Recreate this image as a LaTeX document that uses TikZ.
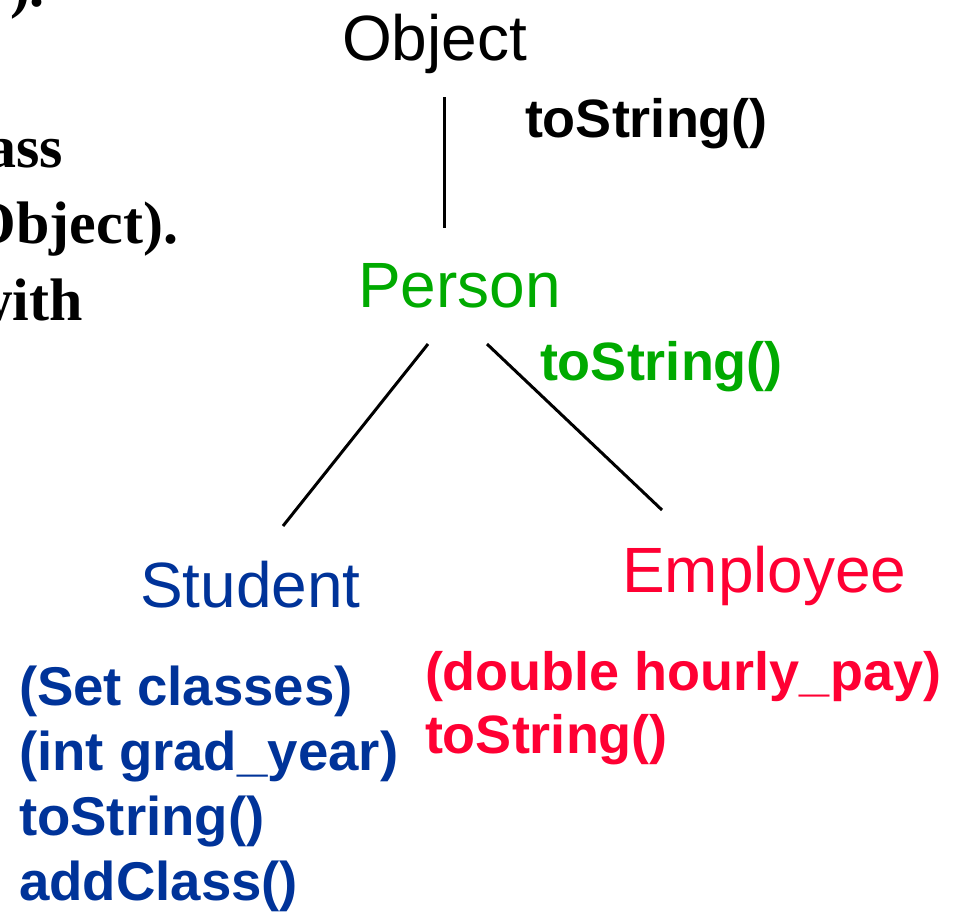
\documentclass[tikz,border=0pt]{standalone}
\usepackage{fontspec}
\setmainfont{Liberation Serif}
\newfontfamily\arial{Liberation Sans}
\definecolor{pgreen}{RGB}{0,170,0}
\definecolor{sblue}{RGB}{0,51,153}
\definecolor{ered}{RGB}{255,0,51}
\begin{document}
\begin{tikzpicture}[x=1pt,y=-1pt,
  every node/.style={inner sep=0pt,outer sep=0pt},
  cls/.style={anchor=base west,font=\arial\fontsize{64}{64}\selectfont},
  mth/.style={anchor=base west,font=\arial\bfseries\fontsize{54}{65}\selectfont},
  cut/.style={anchor=base east,font=\bfseries\fontsize{60}{60}\selectfont},
  link/.style={line width=3pt}]
\useasboundingbox (0,0) rectangle (958,914);
\clip (0,0) rectangle (958,914);
% cut-off text on the left
\node[cut] (t0) at (45,6) {).};
\node[cut] (t1) at (63,167) {class};
\node[cut] (t2) at (178,243) {(Object).};
\node[cut] (t3) at (83,320) {with};
% classes
\node[cls] (obj) at (342,60) {Object};
\node[cls,text=pgreen] (per) at (358,307) {Person};
\node[cls,text=sblue] (stu) at (140,607) {Student};
\node[cls,text=ered] (emp) at (622,592) {Employee};
% methods
\node[mth] (objm) at (525,137) {toString()};
\node[mth,text=pgreen] (perm) at (540,380) {toString()};
\node[mth,text=sblue,font=\arial\bfseries\fontsize{54.6}{65}\selectfont] (stum1) at (19,705) {(Set classes)};
\node[mth,text=sblue,font=\arial\bfseries\fontsize{54.6}{65}\selectfont] (stum2) at (19,770) {(int grad\_year)};
\node[mth,text=sblue,font=\arial\bfseries\fontsize{54.6}{65}\selectfont] (stum3) at (19,835) {toString()};
\node[mth,text=sblue,font=\arial\bfseries\fontsize{54.6}{65}\selectfont] (stum4) at (19,900) {addClass()};
\node[mth,text=ered] (empm1) at (425,690) {(double hourly\_pay)};
\node[mth,text=ered] (empm2) at (425,753) {toString()};
% connectors
\coordinate (a1) at (444,97);
\coordinate (a2) at (444,228);
\coordinate (b1) at (428,344);
\coordinate (b2) at (283,526);
\coordinate (c1) at (487,344);
\coordinate (c2) at (662,510);
\draw[link] (a1) -- (a2);
\draw[link] (b1) -- (b2);
\draw[link] (c1) -- (c2);
\end{tikzpicture}
\end{document}
